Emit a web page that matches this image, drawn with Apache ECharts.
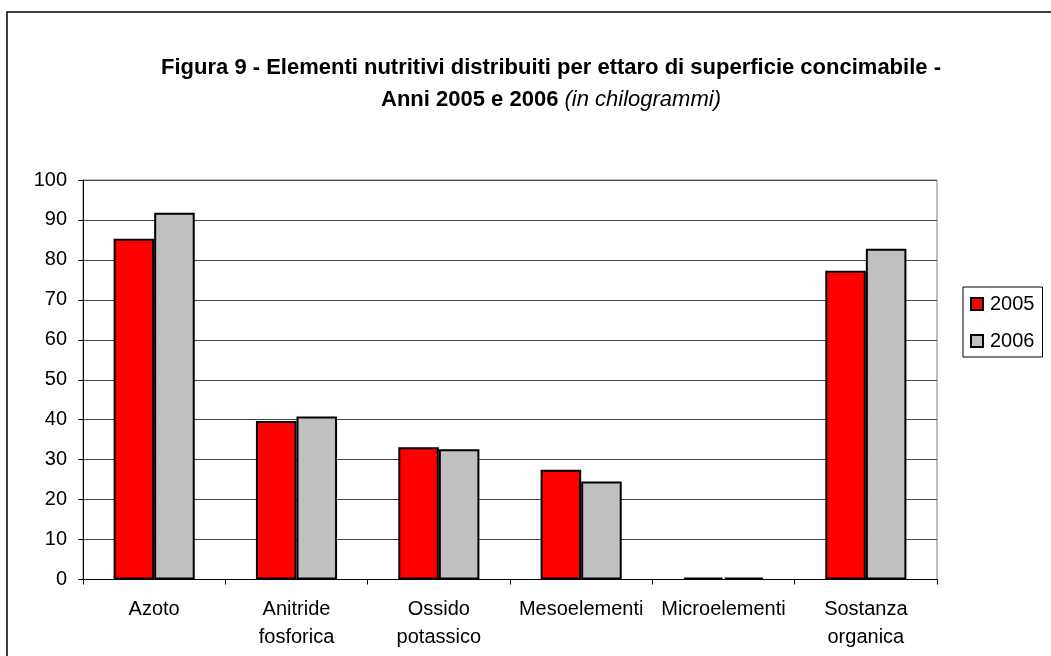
<!DOCTYPE html>
<html>
<head>
<meta charset="utf-8">
<script src="https://cdn.jsdelivr.net/npm/echarts@6/dist/echarts.min.js"></script>
<style>
html,body{margin:0;padding:0;background:#fff;}
#chart{width:1051px;height:656px;}
</style>
</head>
<body>
<div id="chart"></div>
<script>
const categories = ['Azoto', 'Anitride\nfosforica', 'Ossido\npotassico', 'Mesoelementi', 'Microelementi', 'Sostanza\norganica'];
const values2005 = [85.3, 39.7, 33.1, 27.5, 0.5, 77.3];
const values2006 = [91.8, 40.8, 32.6, 24.5, 0.5, 82.8];
const seriesNames = ['2005', '2006'];
const yTicks = {min: 0, max: 100, interval: 10};

const chart = echarts.init(document.getElementById('chart'));
const FONT = '"Liberation Sans", Arial, sans-serif';
chart.setOption({
  backgroundColor: '#fff',
  animation: false,
  textStyle: {fontFamily: FONT},
  title: {
    text: '{b|Figura 9 - Elementi nutritivi distribuiti per ettaro di superficie concimabile -}\n{b|Anni 2005 e 2006 }{i|(in chilogrammi)}',
    left: 546,
    top: 47,
    textAlign: 'center',
    textStyle: {
      rich: {
        b: {fontFamily: FONT, fontWeight: 'bold', fontSize: 22, color: '#000', lineHeight: 32},
        i: {fontFamily: FONT, fontStyle: 'italic', fontWeight: 'normal', fontSize: 22, color: '#000', lineHeight: 32}
      }
    }
  },
  graphic: [{
    type: 'rect',
    shape: {x: 7, y: 12, width: 1100, height: 700},
    style: {fill: 'none', stroke: '#000', lineWidth: 1.5},
    silent: true,
    z: -1
  }],
  legend: {
    orient: 'vertical',
    left: 963,
    top: 287,
    itemWidth: 12,
    itemHeight: 12,
    itemGap: 17,
    padding: [7, 8, 6, 7],
    borderColor: '#000',
    borderWidth: 1,
    icon: 'rect',
    textStyle: {fontFamily: FONT, fontSize: 20, color: '#000', lineHeight: 20, padding: [0, 0, 0, 2]},
    data: seriesNames
  },
  grid: {
    left: 83, right: 114, top: 180, bottom: 76.5,
    show: true, borderColor: '#808080', borderWidth: 1,
    containLabel: false
  },
  xAxis: {
    type: 'category',
    data: categories,
    axisLine: {lineStyle: {color: '#000', width: 1}},
    axisTick: {show: true, alignWithLabel: false, length: 5, lineStyle: {color: '#000'}},
    axisLabel: {fontFamily: FONT, fontSize: 20, color: '#000', margin: 16, lineHeight: 28, interval: 0}
  },
  yAxis: {
    type: 'value',
    min: yTicks.min, max: yTicks.max, interval: yTicks.interval,
    axisLine: {show: true, lineStyle: {color: '#000', width: 1}},
    axisTick: {show: true, length: 5, lineStyle: {color: '#000'}},
    axisLabel: {fontFamily: FONT, fontSize: 20, color: '#000', margin: 16},
    splitLine: {show: true, lineStyle: {color: '#444', width: 1}}
  },
  series: [
    {
      name: seriesNames[0], type: 'bar', data: values2005,
      barGap: '0%', barCategoryGap: '43%',
      itemStyle: {color: '#FF0000', borderColor: '#000', borderWidth: 2}
    },
    {
      name: seriesNames[1], type: 'bar', data: values2006,
      barGap: '0%', barCategoryGap: '43%',
      itemStyle: {color: '#C0C0C0', borderColor: '#000', borderWidth: 2}
    }
  ]
});
</script>
</body>
</html>
